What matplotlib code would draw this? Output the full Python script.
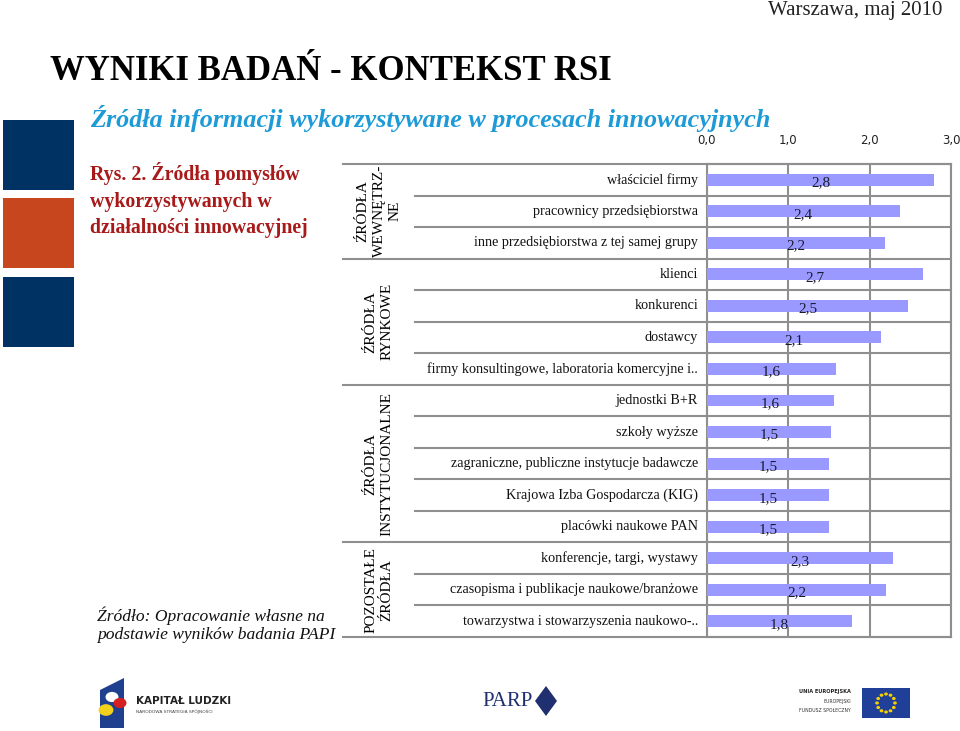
import numpy as np
import matplotlib
matplotlib.use("Agg")
import matplotlib.pyplot as plt
from matplotlib.patches import Rectangle, Polygon, Circle
from matplotlib.transforms import blended_transform_factory

# data
groups = ["ŹRÓDŁA\nWEWNĘTRZ-\nNE", "ŹRÓDŁA\nRYNKOWE", "ŹRÓDŁA\nINSTYTUCJONALNE", "POZOSTAŁE\nŹRÓDŁA"]
group_sizes = [3, 4, 5, 3]
categories = [
    "właściciel firmy",
    "pracownicy przedsiębiorstwa",
    "inne przedsiębiorstwa z tej samej grupy",
    "klienci",
    "konkurenci",
    "dostawcy",
    "firmy konsultingowe, laboratoria komercyjne i..",
    "jednostki B+R",
    "szkoły wyższe",
    "zagraniczne, publiczne instytucje badawcze",
    "Krajowa Izba Gospodarcza (KIG)",
    "placówki naukowe PAN",
    "konferencje, targi, wystawy",
    "czasopisma i publikacje naukowe/branżowe",
    "towarzystwa i stowarzyszenia naukowo-..",
]
values = [2.79, 2.37, 2.19, 2.66, 2.47, 2.14, 1.59, 1.56, 1.52, 1.50, 1.50, 1.50, 2.29, 2.20, 1.78]
ticks = [0.0, 1.0, 2.0, 3.0]

W, H = 960, 731
fig = plt.figure(figsize=(W / 100, H / 100), dpi=100)
serif = "Liberation Serif"
grid_c = "#8f8f8f"


def fx(px):
    return px / W


def fy(py):
    return 1 - py / H


# left decoration squares
for y0, y1, c in [(120, 190, "#003264"), (198, 268, "#c8461e"), (277, 347, "#003264")]:
    fig.add_artist(Rectangle((fx(3), fy(y1)), fx(74) - fx(3), fy(y0) - fy(y1),
                             transform=fig.transFigure, color=c, lw=0))

# texts
fig.text(fx(942), fy(11), "Warszawa, maj 2010", family=serif, fontsize=15,
         ha="right", va="center", color="#222222")
fig.text(fx(50), fy(72), "WYNIKI BADAŃ - KONTEKST RSI", family=serif, fontsize=25,
         weight="bold", ha="left", va="center")
fig.text(fx(90), fy(119), "Źródła informacji wykorzystywane w procesach innowacyjnych",
         family=serif, fontsize=18.8, weight="bold", style="italic", color="#1e9bd7",
         ha="left", va="center")
fig.text(fx(90), fy(200), "Rys. 2. Źródła pomysłów\nwykorzystywanych w\ndziałalności innowacyjnej",
         family=serif, fontsize=14.3, weight="bold", color="#a81a1a", ha="left", va="center",
         linespacing=1.45)
fig.text(fx(97), fy(625), "Źródło: Opracowanie własne na\npodstawie wyników badania PAPI",
         family=serif, fontsize=12.6, style="italic", color="#111111", ha="left", va="center",
         linespacing=1.2)

# chart
ax = fig.add_axes([fx(707), fy(637), fx(951) - fx(707), fy(164) - fy(637)])
n = len(categories)
y = np.arange(n)
ax.barh(y, values, height=0.38, color="#9999ff", zorder=3)
ax.set_xlim(0, 3)
ax.set_ylim(n - 0.5, -0.5)
ax.set_xticks(ticks)
ax.set_xticklabels([f"{t:.1f}".replace(".", ",") for t in ticks], fontsize=8.5, color="#222222")
ax.xaxis.tick_top()
ax.tick_params(axis="x", length=0, pad=12)
ax.set_yticks([])
ax.grid(axis="x", color=grid_c, lw=1.5, zorder=1)
for s in ax.spines.values():
    s.set_color(grid_c)
    s.set_linewidth(1.5)

for yi, v in zip(y, values):
    ax.text(v / 2, yi + 0.1, f"{v:.1f}".replace(".", ","), family=serif, fontsize=11,
            ha="center", va="center", color="#1a1a33", zorder=4)

trans = blended_transform_factory(fig.transFigure, ax.transData)
for yi, cat in zip(y, categories):
    ax.text(fx(698), yi, cat, transform=trans, family=serif, fontsize=10.2,
            ha="right", va="center", color="#111111")

# row and group separators
bounds = np.cumsum(group_sizes)
for b in range(1, n):
    x0 = 343 if b in bounds else 415
    ax.plot([fx(x0), fx(951)], [b - 0.5, b - 0.5], transform=trans, color=grid_c,
            lw=1.5, clip_on=False, zorder=2)
ax.plot([fx(343), fx(951)], [-0.5, -0.5], transform=trans, color=grid_c, lw=1.5, clip_on=False)
ax.plot([fx(343), fx(951)], [n - 0.5, n - 0.5], transform=trans, color=grid_c, lw=1.5, clip_on=False)

start = 0
for g, size in zip(groups, group_sizes):
    mid = start + (size - 1) / 2
    ax.text(fx(379), mid, g, transform=trans, family=serif, fontsize=11, rotation=90,
            ha="center", va="center", multialignment="center", linespacing=1.3)
    start += size

# bottom logos
fig.add_artist(Polygon([(fx(100), fy(728)), (fx(100), fy(690)), (fx(124), fy(678)), (fx(124), fy(728))],
                       transform=fig.transFigure, color="#1f3f8f", lw=0))
fig.add_artist(Circle((fx(112), fy(697)), 0.006, transform=fig.transFigure, color="white"))
fig.add_artist(Circle((fx(120), fy(703)), 0.006, transform=fig.transFigure, color="#d42020"))
fig.add_artist(Circle((fx(106), fy(710)), 0.007, transform=fig.transFigure, color="#f2d21a"))
fig.text(fx(136), fy(701), "KAPITAŁ LUDZKI", family="DejaVu Sans", fontsize=7.5, weight="bold",
         color="#222222", va="center")
fig.text(fx(136), fy(712), "NARODOWA STRATEGIA SPÓJNOŚCI", family="DejaVu Sans", fontsize=3.2,
         color="#444444", va="center")
fig.text(fx(482), fy(701), "PARP", family=serif, fontsize=15, color="#1f2f6f", va="center")
fig.add_artist(Polygon([(fx(535), fy(701)), (fx(546), fy(686)), (fx(557), fy(701)), (fx(546), fy(716))],
                       transform=fig.transFigure, color="#1f2f6f", lw=0))
fig.text(fx(851), fy(692), "UNIA EUROPEJSKA", family="DejaVu Sans", fontsize=3.6, weight="bold",
         color="#222222", ha="right", va="center")
fig.text(fx(851), fy(702), "EUROPEJSKI", family="DejaVu Sans", fontsize=3.3,
         color="#333333", ha="right", va="center")
fig.text(fx(851), fy(710), "FUNDUSZ SPOŁECZNY", family="DejaVu Sans", fontsize=3.3,
         color="#333333", ha="right", va="center")
fig.add_artist(Rectangle((fx(862), fy(718)), fx(910) - fx(862), fy(688) - fy(718),
                         transform=fig.transFigure, color="#1f3f99", lw=0))
for a in np.linspace(0, 2 * np.pi, 12, endpoint=False):
    fig.add_artist(Circle((fx(886 + 9 * np.cos(a)), fy(703 + 9 * np.sin(a))), 0.0012,
                          transform=fig.transFigure, color="#f5d000"))

fig.savefig("out.png", dpi=100)
